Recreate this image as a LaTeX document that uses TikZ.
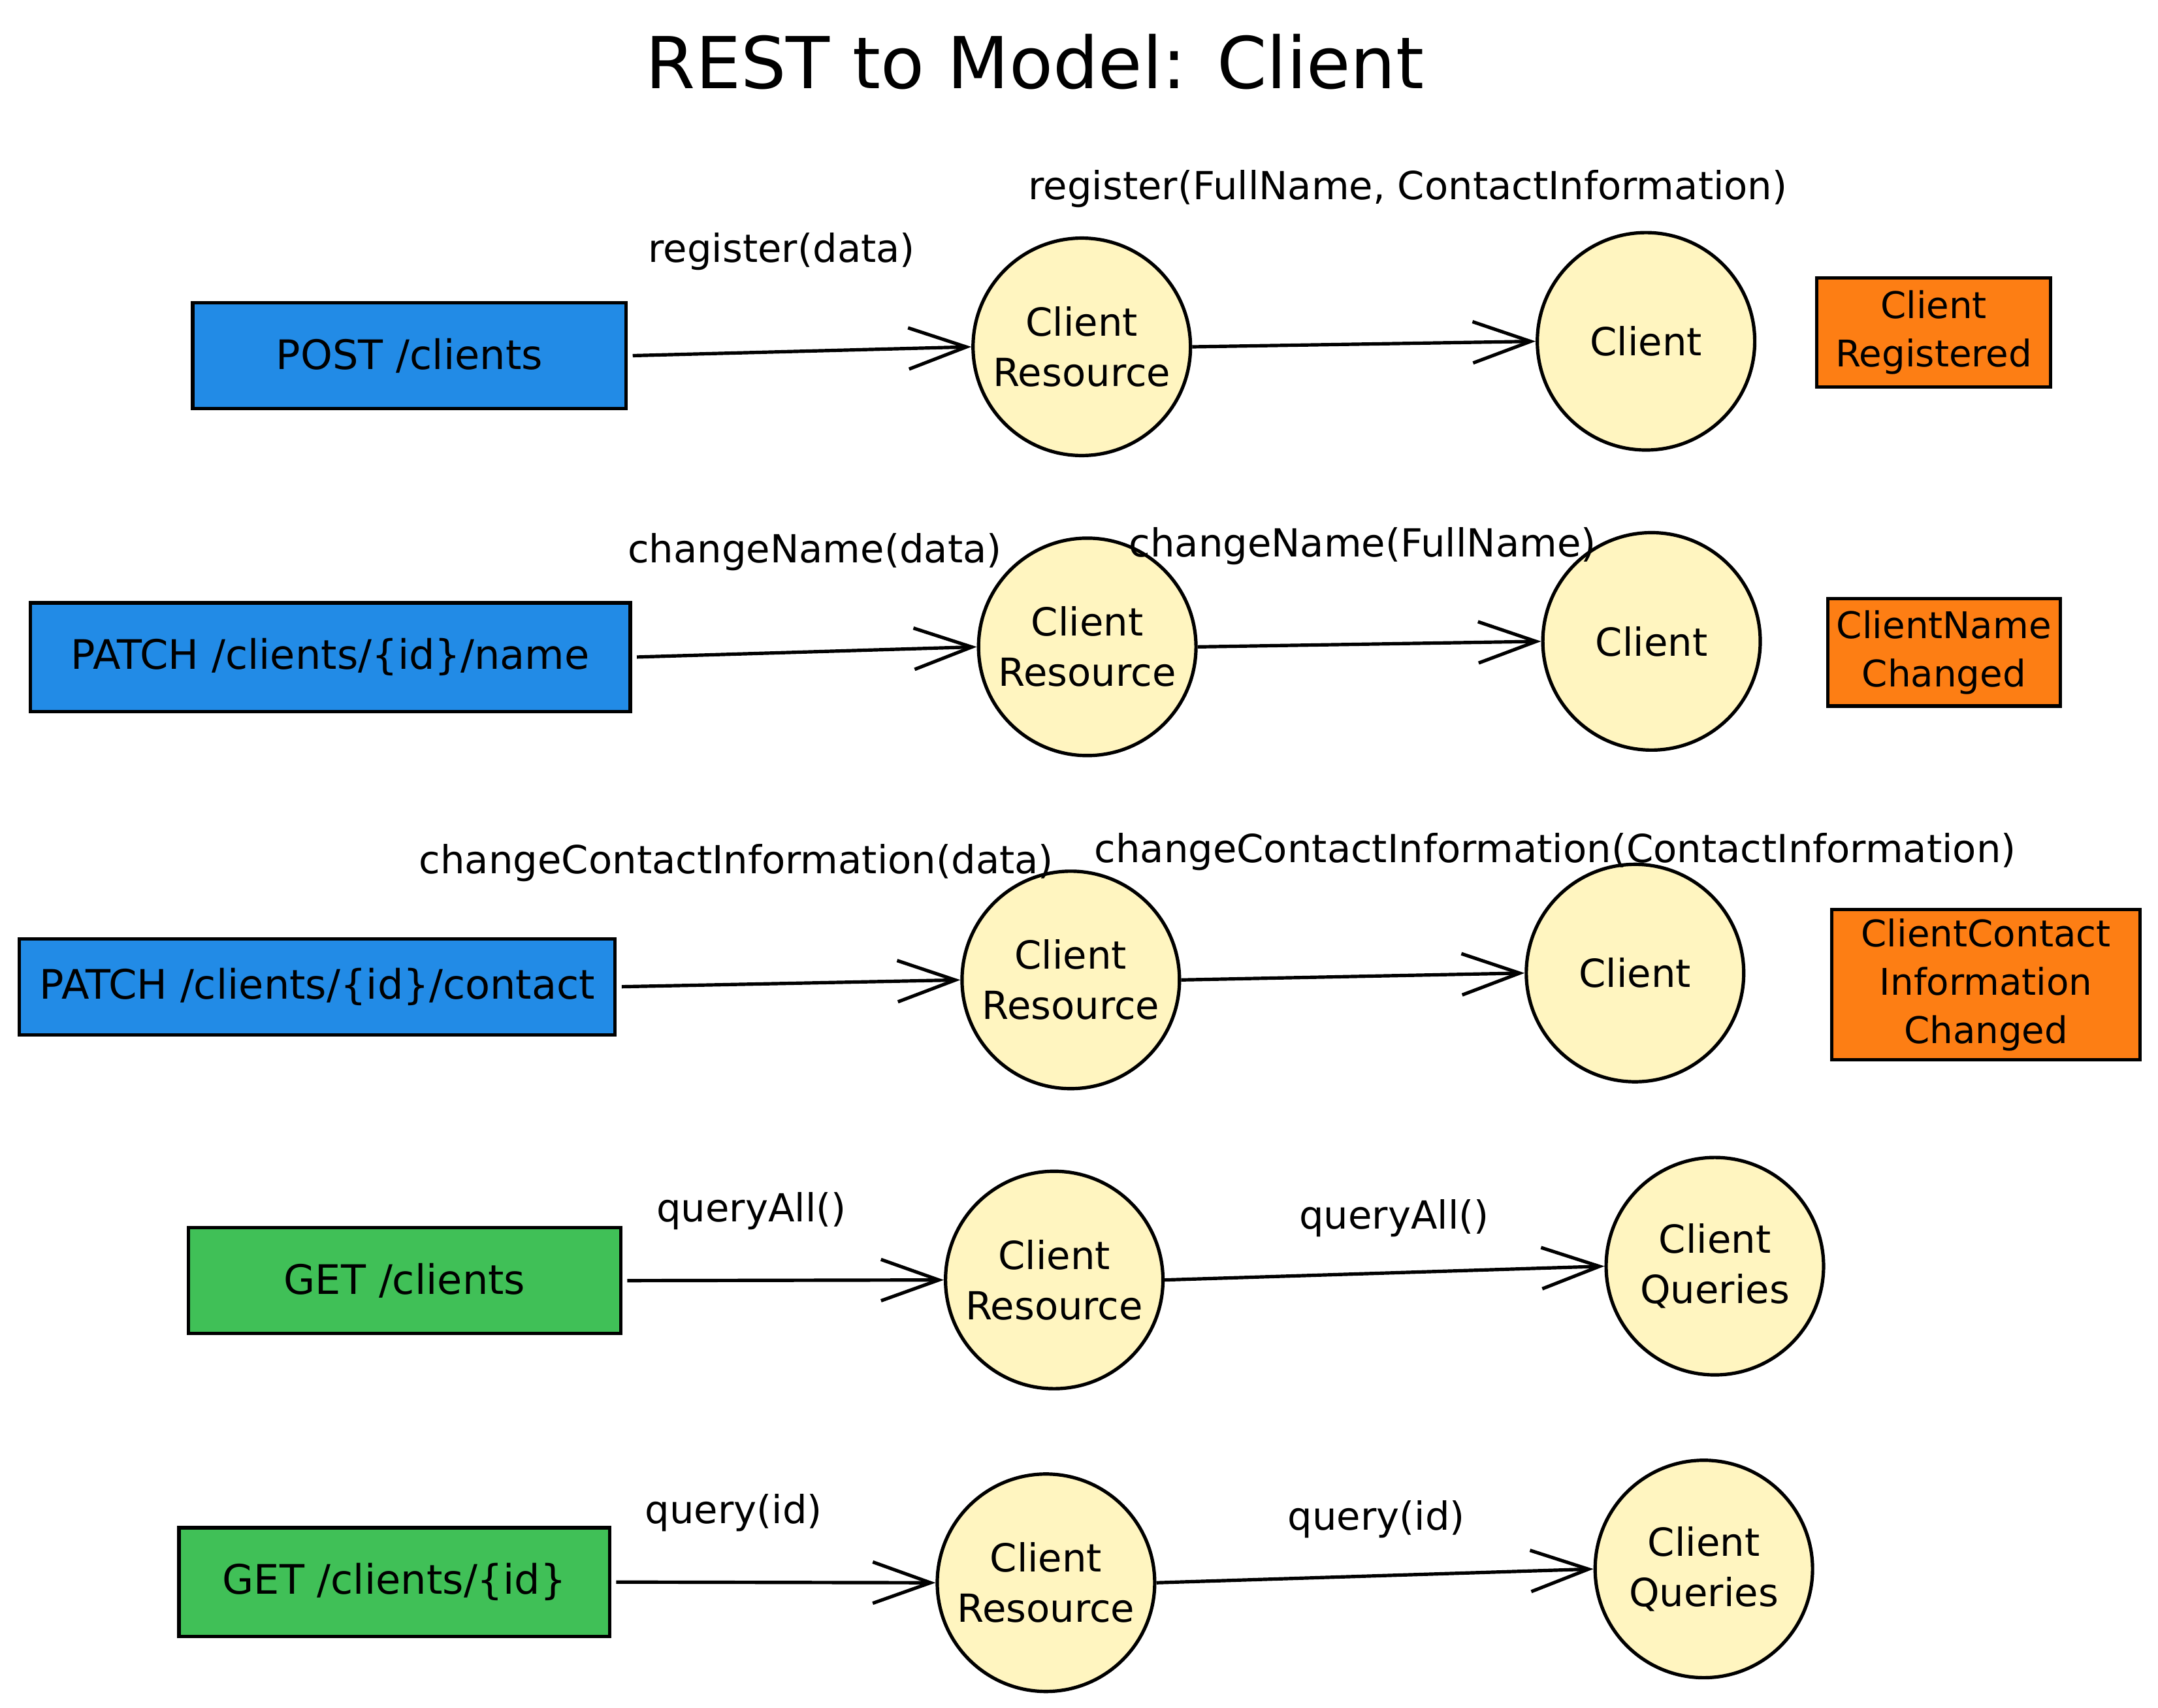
\documentclass[tikz,border=0pt]{standalone}
\usepackage{fontspec}
\setmainfont{DejaVu Sans}
\usetikzlibrary{arrows.meta}
\definecolor{restblue}{HTML}{228BE6}
\definecolor{restgreen}{HTML}{40C057}
\definecolor{evorange}{HTML}{FD7E14}
\definecolor{objyellow}{HTML}{FFF5C0}
\tikzset{
  txt/.style={font=\fontsize{40}{52}\selectfont},
  endpoint/.style={font=\fontsize{42}{52}\selectfont, draw=black, line width=3.5pt, rectangle, inner sep=0pt, align=center},
  bluebox/.style={endpoint, fill=restblue},
  greenbox/.style={endpoint, fill=restgreen},
  evbox/.style={endpoint, fill=evorange, font=\fontsize{38}{50}\selectfont},
  obj/.style={txt, draw=black, line width=3.5pt, circle, fill=objyellow, minimum size=7.9cm, inner sep=0pt, align=center},
  lbl/.style={txt, inner sep=0pt},
  arr/.style={line width=3.5pt, -{Straight Barb[length=2.1cm, width=1.5cm, line width=3.5pt]}},
}
\begin{document}
\begin{tikzpicture}[x=0.05cm, y=-0.05cm]
\useasboundingbox (0,0) rectangle (1568,1241);

\node[font=\fontsize{74}{84}\selectfont] (title) at (752,45) {REST to Model: Client};

% Row 1
\node[bluebox, minimum width=15.75cm, minimum height=3.85cm] (box1) at (297.5,258.5) {POST /clients};
\node[obj] (cr1) at (786,252) {Client\\Resource};
\node[obj] (c1) at (1196,248) {Client};
\node[evbox, minimum width=8.5cm, minimum height=3.95cm] (ev1) at (1405,241.5) {Client\\Registered};
\node[lbl] (l1a) at (568,183) {register(data)};
\node[lbl] (l1b) at (1023,137) {register(FullName, ContactInformation)};
\draw[arr, shorten <=5pt] (box1.east) -- (cr1.west);
\draw[arr] (cr1.east) -- (c1.west);

% Row 2
\node[bluebox, minimum width=21.8cm, minimum height=3.95cm] (box2) at (240,477.5) {PATCH /clients/\{id\}/name};
\node[obj] (cr2) at (790,470) {Client\\Resource};
\node[obj] (c2) at (1200,466) {Client};
\node[evbox, minimum width=8.45cm, minimum height=3.9cm] (ev2) at (1412.5,474) {ClientName\\Changed};
\node[lbl] (l2a) at (592,401) {changeName(data)};
\node[lbl] (l2b) at (990,397) {changeName(FullName)};
\draw[arr, shorten <=5pt] (box2.east) -- (cr2.west);
\draw[arr] (cr2.east) -- (c2.west);

% Row 3
\node[bluebox, minimum width=21.65cm, minimum height=3.5cm] (box3) at (230.5,717) {PATCH /clients/\{id\}/contact};
\node[obj] (cr3) at (778,712) {Client\\Resource};
\node[obj] (c3) at (1188,707) {Client};
\node[evbox, minimum width=11.2cm, minimum height=5.45cm] (ev3) at (1443,715.5) {ClientContact\\Information\\Changed};
\node[lbl] (l3a) at (535,627) {changeContactInformation(data)};
\node[lbl] (l3b) at (1130,619) {changeContactInformation(ContactInformation)};
\draw[arr, shorten <=5pt] (box3.east) -- (cr3.west);
\draw[arr] (cr3.east) -- (c3.west);

% Row 4
\node[greenbox, minimum width=15.7cm, minimum height=3.85cm] (box4) at (294,930.5) {GET /clients};
\node[obj] (cr4) at (766,930) {Client\\Resource};
\node[obj] (cq4) at (1246,920) {Client\\Queries};
\node[lbl] (l4a) at (546,880) {queryAll()};
\node[lbl] (l4b) at (1013,885) {queryAll()};
\draw[arr, shorten <=5pt] (box4.east) -- (cr4.west);
\draw[arr] (cr4.east) -- (cq4.west);

% Row 5
\node[greenbox, minimum width=15.65cm, minimum height=3.95cm] (box5) at (286.5,1149.5) {GET /clients/\{id\}};
\node[obj] (cr5) at (760,1150) {Client\\Resource};
\node[obj] (cq5) at (1238,1140) {Client\\Queries};
\node[lbl] (l5a) at (533,1099) {query(id)};
\node[lbl] (l5b) at (1000,1104) {query(id)};
\draw[arr, shorten <=5pt] (box5.east) -- (cr5.west);
\draw[arr] (cr5.east) -- (cq5.west);
\end{tikzpicture}
\end{document}
